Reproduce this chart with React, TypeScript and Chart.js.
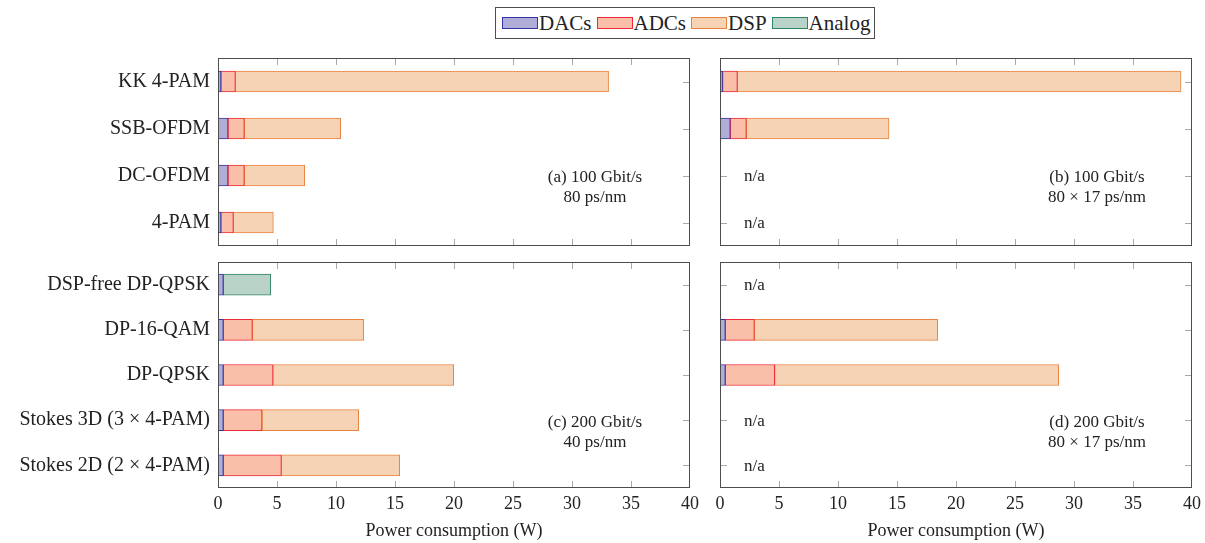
import React, { useEffect, useRef } from "react";
import { Chart, registerables } from "chart.js";

Chart.register(...registerables);

const topCategories = ["KK 4-PAM", "SSB-OFDM", "DC-OFDM", "4-PAM"];
const bottomCategories = [
  "DSP-free DP-QPSK",
  "DP-16-QAM",
  "DP-QPSK",
  "Stokes 3D (3 × 4-PAM)",
  "Stokes 2D (2 × 4-PAM)",
];
const xTicks = [0, 5, 10, 15, 20, 25, 30, 35, 40];
const xTitle = "Power consumption (W)";

// (a) 100 Gbit/s, 80 ps/nm
const aDACs = [0.25, 0.85, 0.85, 0.25];
const aADCs = [1.22, 1.38, 1.38, 1.05];
const aDSP = [31.63, 8.17, 5.12, 3.39];

// (b) 100 Gbit/s, 80 x 17 ps/nm
const bDACs = [0.22, 0.87, null, null];
const bADCs = [1.25, 1.36, null, null];
const bDSP = [37.6, 12.09, null, null];

// (c) 200 Gbit/s, 40 ps/nm
const cDACs = [0.45, 0.45, 0.45, 0.45, 0.45];
const cADCs = [null, 2.46, 4.21, 3.28, 4.92];
const cDSP = [null, 9.44, 15.31, 8.19, 10.03];
const cAnalog = [4.02, null, null, null, null];

// (d) 200 Gbit/s, 80 x 17 ps/nm
const dDACs = [null, 0.45, 0.45, null, null];
const dADCs = [null, 2.46, 4.18, null, null];
const dDSP = [null, 15.54, 24.07, null, null];
const dAnalog = [null, null, null, null, null];

const labelA = ["(a) 100 Gbit/s", "80 ps/nm"];
const labelB = ["(b) 100 Gbit/s", "80 × 17 ps/nm"];
const labelC = ["(c) 200 Gbit/s", "40 ps/nm"];
const labelD = ["(d) 200 Gbit/s", "80 × 17 ps/nm"];
const naText = "n/a";

const legendNames = ["DACs", "ADCs", "DSP", "Analog"];
const fills = ["rgba(176,173,216,1)", "rgba(249,191,169,1)", "rgba(246,211,181,1)", "rgba(186,211,201,1)"];
const strokes = ["#3333a6", "#ee2a36", "#e8833f", "#2e8466"];

const FONT = "'Liberation Serif', 'Times New Roman', serif";
const TEXT = "#222";

type Series = { name: string; data: (number | null)[]; fill: string; stroke: string };

const framePlugin = {
  id: "frame",
  beforeDatasetsDraw(chart: any) {
    const { ctx, chartArea } = chart;
    const { left, right, top, bottom } = chartArea;
    const xs = chart.scales.x;
    const ys = chart.scales.y;
    ctx.save();
    ctx.strokeStyle = "#a8a8a8";
    ctx.lineWidth = 1;
    ctx.beginPath();
    for (const v of xTicks) {
      if (v === xTicks[0] || v === xTicks[xTicks.length - 1]) continue;
      const px = Math.round(xs.getPixelForValue(v)) + 0.5;
      ctx.moveTo(px, top);
      ctx.lineTo(px, top + 7);
      ctx.moveTo(px, bottom);
      ctx.lineTo(px, bottom - 7);
    }
    const n = chart.data.labels.length;
    for (let i = 0; i < n; i++) {
      const py = Math.round(ys.getPixelForValue(i)) + 0.5;
      ctx.moveTo(left, py);
      ctx.lineTo(left + 7, py);
      ctx.moveTo(right, py);
      ctx.lineTo(right - 7, py);
    }
    ctx.stroke();
    ctx.restore();
  },
  afterDraw(chart: any) {
    const { ctx, chartArea } = chart;
    const { left, right, top, bottom } = chartArea;
    const ys = chart.scales.y;
    const opts = chart.options.plugins.panelText || {};
    ctx.save();
    ctx.fillStyle = TEXT;
    ctx.font = `17px ${FONT}`;
    ctx.textBaseline = "middle";
    ctx.textAlign = "left";
    const n = chart.data.labels.length;
    for (let i = 0; i < n; i++) {
      const empty = chart.data.datasets.every((d: any) => d.data[i] === null || d.data[i] === undefined);
      if (empty) ctx.fillText(naText, left + 24, ys.getPixelForValue(i) + 1);
    }
    if (opts.lines) {
      ctx.textAlign = "center";
      const y0 = ys.getPixelForValue(n - 2) + 2;
      opts.lines.forEach((t: string, k: number) => {
        ctx.fillText(t, right - 95, y0 + k * 20.5);
      });
    }
    ctx.strokeStyle = "#4d4d4d";
    ctx.lineWidth = 1;
    ctx.strokeRect(left + 0.5, top + 0.5, right - left - 1, bottom - top - 1);
    ctx.restore();
  },
};

type PanelProps = {
  left: number;
  top: number;
  width: number;
  height: number;
  categories: string[];
  series: Series[];
  showY: boolean;
  showX: boolean;
  padding: { top: number; right: number; bottom: number; left: number };
  lines: string[];
};

function Panel(p: PanelProps) {
  const ref = useRef<HTMLCanvasElement>(null);
  useEffect(() => {
    const chart = new Chart(ref.current as HTMLCanvasElement, {
      type: "bar",
      data: {
        labels: p.categories,
        datasets: p.series.map((s) => ({
          label: s.name,
          data: s.data as any,
          backgroundColor: s.fill,
          borderColor: s.stroke,
          borderWidth: 1,
          borderSkipped: false,
          barThickness: 21,
          stack: "s",
        })),
      },
      options: {
        indexAxis: "y",
        responsive: false,
        animation: false,
        devicePixelRatio: 1,
        layout: { padding: p.padding },
        plugins: {
          legend: { display: false },
          tooltip: { enabled: false },
          panelText: { lines: p.lines },
        } as any,
        scales: {
          x: {
            stacked: true,
            min: 0,
            max: 40,
            display: p.showX,
            grid: { display: false, drawTicks: false },
            border: { display: false },
            ticks: { stepSize: 5, padding: 5, color: TEXT, font: { family: FONT, size: 18 } },
            title: {
              display: p.showX,
              text: xTitle,
              color: TEXT,
              padding: { top: 0, bottom: 1 },
              font: { family: FONT, size: 18 },
            },
            afterFit: (s: any) => {
              s.height = p.showX ? 55 : 0;
              s.paddingLeft = 0;
              s.paddingRight = 0;
            },
          },
          y: {
            stacked: true,
            display: p.showY,
            grid: { display: false, drawTicks: false },
            border: { display: false },
            ticks: { padding: 8, color: TEXT, font: { family: FONT, size: 20 } },
            afterFit: (s: any) => {
              s.width = p.showY ? 218 : 0;
              s.paddingTop = 0;
              s.paddingBottom = 0;
            },
          },
        } as any,
      },
      plugins: [framePlugin],
    });
    return () => chart.destroy();
  }, []);
  return (
    <div style={{ position: "absolute", left: p.left, top: p.top, width: p.width, height: p.height }}>
      <canvas ref={ref} width={p.width} height={p.height} style={{ width: p.width, height: p.height, display: "block" }} />
    </div>
  );
}

function mk(data: (number | null)[][]): Series[] {
  return data.map((d, i) => ({ name: legendNames[i], data: d, fill: fills[i], stroke: strokes[i] }));
}

function Legend() {
  return (
    <div
      style={{
        position: "absolute",
        left: 495,
        top: 7,
        height: 30,
        border: "1px solid #4d4d4d",
        display: "flex",
        alignItems: "center",
        padding: "0 4px 0 6px",
        fontFamily: FONT,
        fontSize: 21,
        color: TEXT,
        whiteSpace: "nowrap",
      }}
    >
      {legendNames.map((n, i) => (
        <div key={n} style={{ display: "flex", alignItems: "center", marginRight: i < 3 ? 5 : 0 }}>
          <div
            style={{
              width: 34,
              height: 10,
              background: fills[i],
              border: `1px solid ${strokes[i]}`,
              marginRight: 1,
            }}
          />
          <span>{n}</span>
        </div>
      ))}
    </div>
  );
}

export default function App() {
  return (
    <div style={{ position: "absolute", left: 0, top: 0, width: 1205, height: 543, background: "#fff", overflow: "hidden" }}>
      <Legend />
      <Panel
        left={0}
        top={50}
        width={700}
        height={205}
        categories={topCategories}
        series={mk([aDACs, aADCs, aDSP])}
        showY={true}
        showX={false}
        padding={{ top: 8, right: 10, bottom: 9, left: 0 }}
        lines={labelA}
      />
      <Panel
        left={700}
        top={50}
        width={505}
        height={205}
        categories={topCategories}
        series={mk([bDACs, bADCs, bDSP])}
        showY={false}
        showX={false}
        padding={{ top: 8, right: 13, bottom: 9, left: 20 }}
        lines={labelB}
      />
      <Panel
        left={0}
        top={254}
        width={700}
        height={289}
        categories={bottomCategories}
        series={mk([cDACs, cADCs, cDSP, cAnalog])}
        showY={true}
        showX={true}
        padding={{ top: 8, right: 10, bottom: 0, left: 0 }}
        lines={labelC}
      />
      <Panel
        left={700}
        top={254}
        width={505}
        height={289}
        categories={bottomCategories}
        series={mk([dDACs, dADCs, dDSP, dAnalog])}
        showY={false}
        showX={true}
        padding={{ top: 8, right: 13, bottom: 0, left: 20 }}
        lines={labelD}
      />
    </div>
  );
}
